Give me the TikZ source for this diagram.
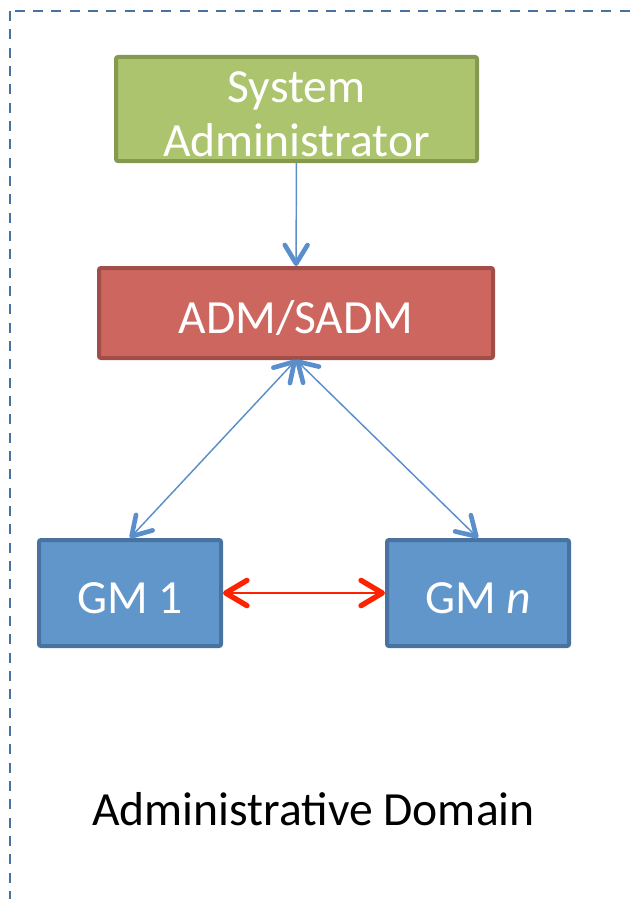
\documentclass[tikz,border=0pt]{standalone}
\usepackage{fontspec}
\setmainfont{Carlito}
\usepackage{tikz}
\usetikzlibrary{arrows.meta, positioning}

\definecolor{sysgreen}{HTML}{ABC46D}
\definecolor{sysgreenline}{HTML}{85994F}
\definecolor{admred}{HTML}{CD665F}
\definecolor{admredline}{HTML}{A14D48}
\definecolor{gmblue}{HTML}{6196CB}
\definecolor{gmblueline}{HTML}{4872A0}
\definecolor{linkblue}{HTML}{5B8FCB}
\definecolor{domainline}{HTML}{46729F}
\definecolor{peerred}{HTML}{FF2200}

\tikzset{
  barb/.tip={Straight Barb[length=14pt, width=17pt, line width=3.5pt, round]},
  bigbarb/.tip={Straight Barb[length=16pt, width=19pt, line width=4pt, round]}
}

\begin{document}
\begin{tikzpicture}[x=0.75pt, y=-0.75pt,
  box/.style={draw, line width=3pt, rounded corners=1.5pt, inner sep=0pt,
              text=white, align=center,
              font=\fontsize{35.7pt}{39.8pt}\selectfont},
  oneline/.style={text height=33pt, text depth=3pt},
  sysbox/.style={box, fill=sysgreen, draw=sysgreenline,
                 minimum width=270.75pt, minimum height=78pt},
  admbox/.style={box, oneline, fill=admred, draw=admredline,
                 minimum width=295.5pt, minimum height=67.5pt},
  gmbox/.style={box, oneline, fill=gmblue, draw=gmblueline,
                minimum width=136.5pt, minimum height=79.5pt},
  link/.style={linkblue, line width=1.1pt},
  peer/.style={peerred, line width=1.5pt, bigbarb-bigbarb}
]
  \useasboundingbox (0,0) rectangle (638,899);

  % Domain frame, open towards right and bottom
  \begin{scope}
    \clip (0,0) rectangle (638,899);
    \draw[domainline, line width=2pt, dash pattern=on 7.5pt off 6.25pt]
      (10,11) rectangle (700,960);
  \end{scope}

  % Boxes
  \node[sysbox] (sys) at (296.5,109) {\rule{0pt}{31pt}System\\Administrator};
  \node[admbox] (adm) at (296,313)   {ADM/SADM};
  \node[gmbox]  (gm1) at (130,593)   {GM 1};
  \node[gmbox]  (gmn) at (478,593)   {GM \textit{n}};

  \node[anchor=base, font=\fontsize{35.7pt}{39.8pt}\selectfont]
    (domain) at (313.5,825) {Administrative Domain};

  % Connections
  \draw[link, -barb] (sys) -- (adm);
  \draw[link, barb-barb] (adm.south) -- (gm1.north);
  \draw[link, barb-barb] (adm.south) -- (gmn.north);
  \draw[peer] (gm1) -- (gmn);
\end{tikzpicture}
\end{document}
